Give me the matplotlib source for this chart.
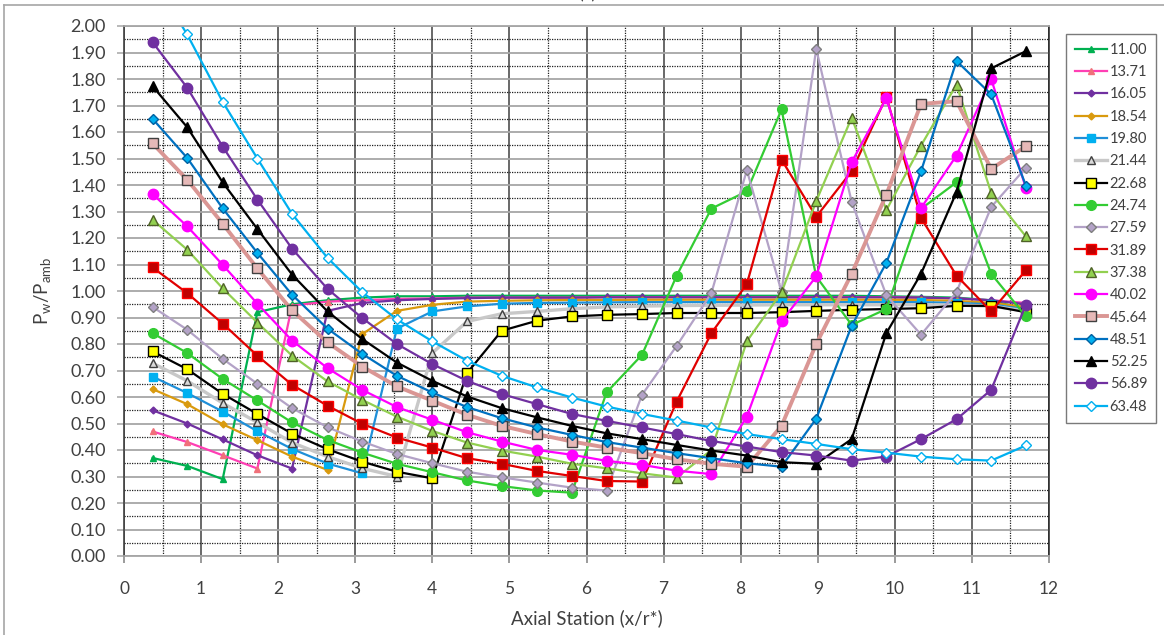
import matplotlib
matplotlib.use("Agg")
import matplotlib.pyplot as plt
from matplotlib.lines import Line2D
from matplotlib.ticker import MultipleLocator, FormatStrFormatter

plt.rcParams['font.family'] = ['Lato', 'DejaVu Sans']

# axial stations (x/r*)
stations = [0.37, 0.82, 1.28, 1.73, 2.18, 2.64, 3.09, 3.54, 4.00, 4.45, 4.90, 5.36, 5.81,
            6.26, 6.72, 7.17, 7.62, 8.08, 8.53, 8.98, 9.44, 9.89, 10.34, 10.80, 11.25, 11.70]

# Pw/Pamb for each NPR
p1100 = [0.37, 0.34, 0.29, 0.92, 0.95, 0.965, 0.975, 0.98, 0.98, 0.982, 0.982, 0.982, 0.982,
         0.982, 0.982, 0.982, 0.982, 0.982, 0.982, 0.982, 0.982, 0.98, 0.978, 0.975, 0.965, 0.93]
p1371 = [0.47, 0.43, 0.38, 0.33, 0.945, 0.96, 0.965, 0.97, 0.972, 0.975, 0.975, 0.975, 0.975,
         0.977, 0.977, 0.977, 0.977, 0.977, 0.977, 0.977, 0.977, 0.977, 0.975, 0.972, 0.965, 0.955]
p1605 = [0.55, 0.50, 0.44, 0.38, 0.33, 0.925, 0.955, 0.965, 0.97, 0.973, 0.975, 0.975, 0.975,
         0.976, 0.976, 0.976, 0.976, 0.976, 0.976, 0.976, 0.976, 0.976, 0.975, 0.972, 0.965, 0.95]
p1854 = [0.63, 0.573, 0.497, 0.437, 0.375, 0.325, 0.837, 0.925, 0.948, 0.96, 0.963, 0.965, 0.966,
         0.966, 0.967, 0.967, 0.967, 0.967, 0.967, 0.967, 0.967, 0.967, 0.966, 0.963, 0.955, 0.94]
p1980 = [0.677, 0.615, 0.545, 0.471, 0.404, 0.349, 0.312, 0.858, 0.923, 0.942, 0.952, 0.955, 0.956,
         0.957, 0.958, 0.958, 0.958, 0.958, 0.958, 0.958, 0.958, 0.958, 0.958, 0.955, 0.95, 0.93]
p2144 = [0.728, 0.661, 0.577, 0.504, 0.428, 0.375, 0.331, 0.30, 0.766, 0.885, 0.914, 0.923, 0.933,
         0.94, 0.943, 0.945, 0.946, 0.947, 0.948, 0.948, 0.948, 0.948, 0.948, 0.947, 0.943, 0.925]
p2268 = [0.772, 0.705, 0.612, 0.536, 0.462, 0.403, 0.356, 0.318, 0.293, 0.69, 0.85, 0.888, 0.904,
         0.91, 0.913, 0.917, 0.917, 0.917, 0.92, 0.925, 0.929, 0.932, 0.935, 0.944, 0.944, 0.92]
p2474 = [0.841, 0.766, 0.668, 0.587, 0.504, 0.438, 0.39, 0.348, 0.316, 0.285, 0.264, 0.247, 0.239,
         0.617, 0.759, 1.058, 1.311, 1.376, 1.685, 1.055, 0.872, 0.932, 1.31, 1.41, 1.065, 0.904]
p2759 = [0.94, 0.854, 0.744, 0.65, 0.558, 0.486, 0.432, 0.385, 0.35, 0.318, 0.297, 0.277, 0.258,
         0.247, 0.608, 0.793, 0.992, 1.456, 0.998, 1.914, 1.336, 0.984, 0.835, 0.996, 1.317, 1.465]
p3189 = [1.089, 0.992, 0.877, 0.756, 0.646, 0.567, 0.499, 0.447, 0.409, 0.369, 0.348, 0.321, 0.302,
         0.283, 0.281, 0.583, 0.841, 1.026, 1.496, 1.28, 1.452, 1.733, 1.276, 1.058, 0.923, 1.078]
p3738 = [1.269, 1.156, 1.01, 0.881, 0.756, 0.659, 0.589, 0.526, 0.472, 0.428, 0.398, 0.375, 0.348,
         0.331, 0.312, 0.296, 0.40, 0.81, 0.995, 1.339, 1.654, 1.305, 1.549, 1.779, 1.37, 1.206]
p4002 = [1.366, 1.244, 1.099, 0.952, 0.813, 0.709, 0.627, 0.562, 0.514, 0.467, 0.432, 0.40, 0.382,
         0.359, 0.344, 0.322, 0.309, 0.526, 0.885, 1.055, 1.486, 1.727, 1.313, 1.511, 1.80, 1.389]
p4564 = [1.557, 1.42, 1.254, 1.085, 0.927, 0.806, 0.715, 0.64, 0.586, 0.533, 0.491, 0.46, 0.432,
         0.409, 0.388, 0.365, 0.348, 0.337, 0.491, 0.80, 1.065, 1.364, 1.706, 1.716, 1.461, 1.546]
p4851 = [1.65, 1.502, 1.312, 1.144, 0.986, 0.858, 0.763, 0.68, 0.617, 0.562, 0.52, 0.485, 0.457,
         0.43, 0.409, 0.388, 0.369, 0.35, 0.337, 0.518, 0.869, 1.106, 1.452, 1.868, 1.742, 1.398]
p5225 = [1.773, 1.618, 1.41, 1.234, 1.062, 0.923, 0.819, 0.73, 0.661, 0.602, 0.558, 0.523, 0.491,
         0.463, 0.441, 0.419, 0.398, 0.379, 0.354, 0.348, 0.441, 0.841, 1.065, 1.373, 1.84, 1.905]
p5689 = [1.939, 1.767, 1.545, 1.345, 1.16, 1.008, 0.898, 0.80, 0.724, 0.661, 0.611, 0.573, 0.536,
         0.51, 0.485, 0.46, 0.434, 0.413, 0.392, 0.379, 0.36, 0.375, 0.441, 0.516, 0.627, 0.948]
p6348 = [2.18, 1.968, 1.714, 1.50, 1.291, 1.125, 0.996, 0.893, 0.81, 0.737, 0.68, 0.636, 0.598,
         0.564, 0.536, 0.511, 0.485, 0.46, 0.441, 0.423, 0.403, 0.39, 0.375, 0.365, 0.36, 0.417]

labels = ["11.00", "13.71", "16.05", "18.54", "19.80", "21.44", "22.68", "24.74", "27.59",
          "31.89", "37.38", "40.02", "45.64", "48.51", "52.25", "56.89", "63.48"]
series = [p1100, p1371, p1605, p1854, p1980, p2144, p2268, p2474, p2759,
          p3189, p3738, p4002, p4564, p4851, p5225, p5689, p6348]

# (line color, marker, marker size, face, edge, line width)
styles = [
    ('#00B050', '^', 5, '#00B050', '#00B050', 1.6),
    ('#FF3FB4', '^', 5, '#F0707A', '#F0707A', 1.6),
    ('#7030A0', 'D', 3.5, '#7030A0', '#7030A0', 1.6),
    ('#D99A0E', 'D', 3.5, '#D99A0E', '#D99A0E', 1.6),
    ('#1F8FD8', 's', 6, '#00B0F0', '#00B0F0', 1.6),
    ('#C8C8C8', '^', 6, '#D9D9D9', '#404040', 2.4),
    ('#000000', 's', 6.5, '#FFFF00', '#000000', 1.6),
    ('#33CC33', 'o', 7, '#33CC33', '#33CC33', 1.6),
    ('#B3A2C7', 'D', 5.5, '#B3A2C7', '#7F7F7F', 1.6),
    ('#E00000', 's', 7, '#C00000', '#FF0000', 1.6),
    ('#92D050', '^', 7, '#92D050', '#4F6228', 1.6),
    ('#FF00FF', 'o', 7.5, '#FF00FF', '#FF00FF', 1.6),
    ('#DA9694', 's', 7.5, '#E6B9B8', '#404040', 2.8),
    ('#0070C0', 'D', 5, '#00B0F0', '#0060A0', 1.6),
    ('#000000', '^', 6.5, '#000000', '#000000', 1.6),
    ('#7030A0', 'o', 7.5, '#7030A0', '#7030A0', 1.6),
    ('#00B0F0', 'D', 5.5, '#FFFFFF', '#00B0F0', 1.6),
]

W, H = 1164, 635
fig = plt.figure(figsize=(W / 100, H / 100), dpi=100)
ax = fig.add_axes([124 / W, 1 - 556 / H, (1049 - 124) / W, (556 - 26) / H])

for lab, vals, st in zip(labels, series, styles):
    col, mk, ms, fc, ec, lw = st
    ax.plot(stations, vals, color=col, lw=lw, marker=mk, markersize=ms,
            markerfacecolor=fc, markeredgecolor=ec, markeredgewidth=1.0, label=lab)

ax.set_xlim(0, 12)
ax.set_ylim(0, 2.0)
ax.xaxis.set_major_locator(MultipleLocator(1))
ax.xaxis.set_minor_locator(MultipleLocator(0.5))
ax.yaxis.set_major_locator(MultipleLocator(0.1))
ax.yaxis.set_minor_locator(MultipleLocator(0.05))
ax.yaxis.set_major_formatter(FormatStrFormatter('%.2f'))

# Excel-style gridlines
ax.grid(True, which='major', axis='y', color='#A6A6A6', lw=1.3, zorder=0)
ax.grid(True, which='minor', axis='y', color='#202020', lw=0.9, ls=(0, (1, 1)), zorder=0)
ax.grid(True, which='major', axis='x', color='#404040', lw=1.1, zorder=0)
ax.grid(True, which='minor', axis='x', color='#202020', lw=0.9, ls=(0, (1, 1)), zorder=0)
ax.set_axisbelow(True)

ax.spines['left'].set_color('#404040')
ax.spines['left'].set_linewidth(1.2)
ax.spines['right'].set_color('#202020')
ax.spines['right'].set_linewidth(1.1)
ax.spines['top'].set_color('#A6A6A6')
ax.spines['bottom'].set_color('#A6A6A6')
ax.spines['top'].set_linewidth(1.3)
ax.spines['bottom'].set_linewidth(1.3)

ax.tick_params(axis='x', which='major', length=5, width=1.1, color='#808080',
               labelsize=12.5, pad=13, labelcolor='#404040')
ax.tick_params(axis='y', which='major', length=5, width=1.1, color='#A6A6A6',
               labelsize=13, pad=8, labelcolor='#404040')
ax.tick_params(which='minor', length=0)

ax.set_xlabel('Axial Station (x/r*)', fontsize=13.5, color='#404040', labelpad=9)
ax.set_ylabel(r'P$_{\mathregular{w}}$/P$_{\mathregular{amb}}$', fontsize=13.5,
              color='#404040', labelpad=12)

leg = ax.legend(loc='upper left', bbox_to_anchor=(1066 / W, 1 - 34 / H),
                bbox_transform=fig.transFigure, fontsize=10.5, frameon=True,
                fancybox=False, edgecolor='#595959', handlelength=2.2,
                handletextpad=0.2, labelspacing=0.57, borderpad=0.6,
                borderaxespad=0)
leg.get_frame().set_linewidth(1.0)
for t in leg.get_texts():
    t.set_color('#404040')

# outer chart border and the caption, clipped by the top edge as in the source
fig.add_artist(Line2D([4 / W, 4 / W], [0, 1 - 5 / H], transform=fig.transFigure,
                      color='#A6A6A6', lw=1.2))
fig.add_artist(Line2D([4 / W, 1], [1 - 5 / H, 1 - 5 / H], transform=fig.transFigure,
                      color='#A6A6A6', lw=1.2))
fig.text(587 / W, 1 + 1 / H, '(c)', ha='center', va='baseline', fontsize=13, color='#404040')

fig.savefig('out.png', dpi=100)
